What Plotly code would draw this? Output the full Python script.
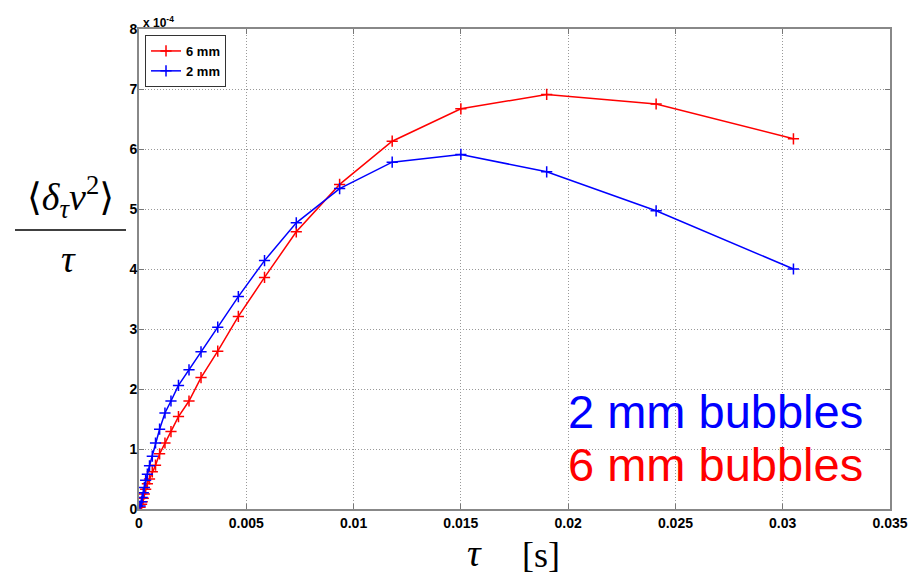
import plotly.graph_objects as go

tau = [0.0305, 0.0241, 0.0190, 0.0150, 0.0118, 0.00935, 0.00733, 0.00585, 0.00463,
       0.00367, 0.00289, 0.00233, 0.00184, 0.00149, 0.00121, 0.00096, 0.00077,
       0.00062, 0.00049, 0.00039, 0.00031, 0.00025, 0.00020, 0.00015, 0.00012, 0.00005]

y_6mm = [6.17, 6.75, 6.91, 6.67, 6.13, 5.41, 4.62, 3.86, 3.21, 2.63, 2.19, 1.80, 1.54,
         1.29, 1.10, 0.92, 0.73, 0.62, 0.50, 0.42, 0.33, 0.25, 0.18, 0.12, 0.08, 0.03]

y_2mm = [4.00, 4.97, 5.62, 5.91, 5.78, 5.34, 4.77, 4.14, 3.54, 3.03, 2.62, 2.32, 2.06,
         1.80, 1.60, 1.33, 1.10, 0.88, 0.72, 0.58, 0.48, 0.36, 0.27, 0.19, 0.12, 0.05]

x_ticks = [0, 0.005, 0.01, 0.015, 0.02, 0.025, 0.03, 0.035]
x_ticktext = ["0", "0.005", "0.01", "0.015", "0.02", "0.025", "0.03", "0.035"]
y_ticks = [0, 1, 2, 3, 4, 5, 6, 7, 8]

fig = go.Figure()
fig.add_trace(go.Scatter(x=tau, y=y_6mm, mode="lines+markers", name="6 mm",
                         line=dict(color="#ff0000", width=1.5),
                         marker=dict(symbol="cross-thin", size=8,
                                     line=dict(color="#ff0000", width=1.5))))
fig.add_trace(go.Scatter(x=tau, y=y_2mm, mode="lines+markers", name="2 mm",
                         line=dict(color="#0000ff", width=1.5),
                         marker=dict(symbol="cross-thin", size=8,
                                     line=dict(color="#0000ff", width=1.5))))

axis_font = dict(family="Liberation Sans, Arial", size=14, color="black", weight="bold")
common = dict(ticks="inside", ticklen=5, tickcolor="#777", showline=True,
              linecolor="#888", linewidth=2, mirror="ticks",
              showgrid=True, gridcolor="#999", griddash="1px,2px", gridwidth=1,
              zeroline=False, tickfont=axis_font, automargin=False)
fig.update_xaxes(range=[0, 0.035], tickvals=x_ticks, ticktext=x_ticktext, **common)
fig.update_yaxes(range=[0, 8], tickvals=y_ticks, ticklabelstandoff=-3, **common)

W, H = 910, 576
L, R, T, B = 139, 20, 29, 67

fig.update_layout(
    width=W, height=H,
    margin=dict(l=L, r=R, t=T, b=B),
    paper_bgcolor="white", plot_bgcolor="white",
    showlegend=True,
    legend=dict(x=0.008, y=0.9875, xanchor="left", yanchor="top",
                bgcolor="white", bordercolor="#333", borderwidth=1,
                font=dict(family="Liberation Sans, Arial", size=13, color="black",
                          weight="bold"),
                tracegroupgap=0),
)

# helpers: pixel -> paper coordinates (plot area 139..890 x 29..509)
def px(xp):
    return (xp - L) / (W - L - R)

def py(yp):
    return (H - B - yp) / (H - T - B)

serif = "Liberation Serif, DejaVu Serif, serif"

fig.add_annotation(text="x 10<sup>-4</sup>", x=px(141), y=py(22), xref="paper", yref="paper",
                   xanchor="left", yanchor="middle", showarrow=False,
                   font=dict(family="Liberation Sans", size=12, color="black", weight="bold"))

fig.add_annotation(text="2 mm bubbles", x=px(865), y=py(411), xref="paper", yref="paper",
                   xanchor="right", yanchor="middle", showarrow=False,
                   font=dict(family="Liberation Sans, Arial", size=47, color="#0000ff"))
fig.add_annotation(text="6 mm bubbles", x=px(865), y=py(464), xref="paper", yref="paper",
                   xanchor="right", yanchor="middle", showarrow=False,
                   font=dict(family="Liberation Sans, Arial", size=47, color="#ff0000"))

# y-axis label as a fraction
fig.add_annotation(text="⟨<i>δ<sub>τ</sub>v</i><sup>2</sup>⟩", x=px(70), y=py(197),
                   xref="paper", yref="paper", xanchor="center", yanchor="middle",
                   showarrow=False, font=dict(family=serif, size=38, color="black"))
fig.add_shape(type="line", x0=px(15), x1=px(126), y0=py(230), y1=py(230),
              xref="paper", yref="paper", line=dict(color="black", width=1.5))
fig.add_annotation(text="<i>τ</i>", x=px(68), y=py(259), xref="paper", yref="paper",
                   xanchor="center", yanchor="middle",
                   showarrow=False, font=dict(family=serif, size=38, color="black"))

# x-axis label
fig.add_annotation(text="<i>τ</i>", x=px(474), y=py(553), xref="paper", yref="paper",
                   xanchor="center", yanchor="middle",
                   showarrow=False, font=dict(family=serif, size=38, color="black"))
fig.add_annotation(text="[s]", x=px(541), y=py(555), xref="paper", yref="paper",
                   xanchor="center", yanchor="middle",
                   showarrow=False, font=dict(family=serif, size=36, color="black"))

fig.write_html("out.html", config={"displayModeBar": False},
               post_script="document.body.style.margin='0';document.body.style.overflow='hidden';")
